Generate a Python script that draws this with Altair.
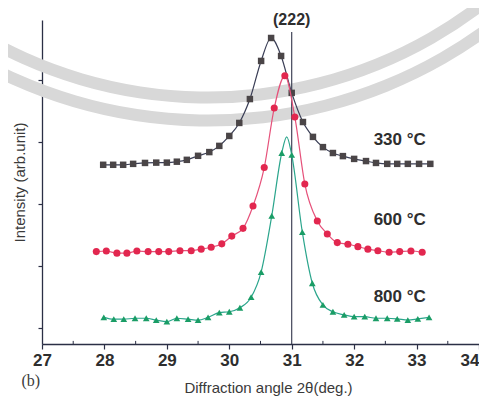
import altair as alt
import pandas as pd

# ---- data ----
# 330 °C (squares)
x330 = [27.98, 28.14, 28.30, 28.46, 28.65, 28.83, 29.00, 29.16, 29.32, 29.50, 29.68, 29.84,
        30.00, 30.16, 30.33, 30.51, 30.67, 30.83, 31.00, 31.18, 31.34, 31.50, 31.66, 31.82,
        32.00, 32.19, 32.35, 32.53, 32.69, 32.86, 33.04, 33.22]
y330 = [5.28, 5.28, 5.28, 5.31, 5.34, 5.35, 5.35, 5.38, 5.44, 5.57, 5.69, 5.89,
        6.21, 6.63, 7.40, 8.63, 9.37, 8.79, 7.60, 6.66, 6.18, 5.85, 5.66, 5.56,
        5.47, 5.40, 5.34, 5.31, 5.31, 5.31, 5.31, 5.31]

# 600 °C (circles)
x600 = [27.87, 28.03, 28.20, 28.36, 28.52, 28.70, 28.87, 29.03, 29.21, 29.39, 29.55, 29.71,
        29.88, 30.04, 30.22, 30.38, 30.56, 30.72, 30.89, 31.05, 31.21, 31.41, 31.57, 31.73,
        31.90, 32.06, 32.22, 32.38, 32.56, 32.73, 32.91, 33.09]
y600 = [2.48, 2.50, 2.43, 2.43, 2.50, 2.48, 2.48, 2.48, 2.51, 2.51, 2.56, 2.62,
        2.73, 2.98, 3.23, 3.95, 5.19, 7.11, 8.15, 6.82, 4.66, 3.47, 3.05, 2.77,
        2.72, 2.64, 2.56, 2.51, 2.46, 2.48, 2.50, 2.46]

# 800 °C (triangles)
x800 = [27.99, 28.15, 28.31, 28.49, 28.67, 28.83, 29.00, 29.16, 29.34, 29.50, 29.66, 29.84,
        30.00, 30.17, 30.35, 30.51, 30.68, 30.84, 31.00, 31.17, 31.33, 31.50, 31.66, 31.84,
        32.00, 32.17, 32.35, 32.53, 32.69, 32.86, 33.02, 33.20]
y800 = [0.36, 0.30, 0.30, 0.33, 0.33, 0.27, 0.22, 0.33, 0.30, 0.27, 0.36, 0.51,
        0.54, 0.67, 1.01, 1.82, 3.63, 5.66, 5.60, 3.11, 1.46, 0.76, 0.54, 0.44,
        0.38, 0.38, 0.33, 0.33, 0.31, 0.27, 0.31, 0.36]
# apex of the fitted 800 °C curve (line only, no marker)
peak800_x = [30.92]
peak800_y = [6.18]

# series labels
label_text = ["330 °C", "600 °C", "800 °C"]
label_x = [32.73, 32.73, 32.73]
label_y = [6.08, 3.50, 1.02]

# reflection marker
peak_label = ["(222)"]
peak_pos = [31.0]
peak_top = [9.56]
peak_label_y = [9.95]

x_ticks = [27, 28, 29, 30, 31, 32, 33, 34]
x_minor = [27.5, 28.5, 29.5, 30.5, 31.5, 32.5, 33.5]
y_ticks = [0, 1, 2, 3, 4, 5, 6, 7, 8, 9]
x_domain = [27, 34]
y_domain = [-0.5, 9.95]

panel_tag = ["(b)"]
panel_tag_x = [26.82]
panel_tag_y = [-1.68]

AXIS_COL = "#2b2f45"
TXT_COL = "#2e2e2e"

X = alt.X("x:Q",
          scale=alt.Scale(domain=x_domain, nice=False, zero=False),
          axis=alt.Axis(values=x_ticks, format="d", grid=False, tickSize=5,
                        tickColor=AXIS_COL, domainColor=AXIS_COL, domainWidth=1.3,
                        tickWidth=1.2, labelFont="Liberation Sans", labelFontWeight="bold",
                        labelFontSize=17, labelColor=TXT_COL, labelPadding=3,
                        labelOverlap=False, labelFlush=False,
                        labelAlign=alt.ExprRef(expr="datum.value == 34 ? 'right' : 'center'"),
                        title="Diffraction angle 2θ(deg.)", titleFont="Liberation Sans",
                        titleFontWeight="normal", titleFontSize=15, titleColor="#3a3a3a",
                        titlePadding=12, titleX=226))
Y = alt.Y("y:Q",
          scale=alt.Scale(domain=y_domain, nice=False, zero=False),
          axis=alt.Axis(values=y_ticks, labels=False, grid=False, tickSize=4,
                        tickColor=AXIS_COL, domainColor=AXIS_COL, domainWidth=1.3,
                        tickWidth=1.2, title="Intensity (arb.unit)",
                        titleFont="Liberation Sans", titleFontWeight="normal",
                        titleFontSize=15, titleColor="#3a3a3a", titlePadding=10))

layers = []

# faint watermark rings of the scanned page (decoration)
for r_out, r_in in [(455.5, 443.5), (478.5, 466.5)]:
    layers.append(
        alt.Chart(pd.DataFrame({"k": [0]})).mark_arc(
            radius=r_out, radius2=r_in, theta=1.95, theta2=4.1, color="#d8d8d8"
        ).encode(x=alt.value(166), y=alt.value(-372))
    )


def series(xs, ys, shape, mcol, lcol, size, lx=None, ly=None):
    df = pd.DataFrame({"x": xs, "y": ys})
    ldf = df
    if lx is not None:
        ldf = pd.concat([df, pd.DataFrame({"x": lx, "y": ly})]).sort_values("x")
    line = alt.Chart(ldf).mark_line(color=lcol, strokeWidth=1.2,
                                    interpolate="monotone").encode(x=X, y=Y)
    pts = alt.Chart(df).mark_point(shape=shape, filled=True, size=size, color=mcol,
                                   opacity=1).encode(x=X, y=Y)
    return [line, pts]


# vertical (222) reference line
rule_df = pd.DataFrame({"x": peak_pos, "y0": [y_domain[0]], "y1": peak_top})
layers.append(alt.Chart(rule_df).mark_rule(color="#30344a", strokeWidth=1.1).encode(
    x=X, y=alt.Y("y0:Q", scale=alt.Scale(domain=y_domain, nice=False, zero=False)),
    y2="y1:Q"))

layers += series(x330, y330, "square", "#4a4547", "#3a3e56", 42)
layers += series(x600, y600, "circle", "#e2274f", "#e6517a", 50)
layers += series(x800, y800, "triangle-up", "#1a9d66", "#2aa58c", 45, peak800_x, peak800_y)

# minor x ticks (inward)
minor_df = pd.DataFrame({"x": x_minor, "y0": [y_domain[0]] * len(x_minor),
                         "y1": [y_domain[0] + 0.1] * len(x_minor)})
layers.append(alt.Chart(minor_df).mark_rule(color=AXIS_COL, strokeWidth=1).encode(
    x=X, y="y0:Q", y2="y1:Q"))

lab_df = pd.DataFrame({"x": label_x, "y": label_y, "t": label_text})
layers.append(alt.Chart(lab_df).mark_text(font="Liberation Sans", fontWeight="bold",
                                          fontSize=17, color=TXT_COL).encode(
    x=X, y=Y, text="t:N"))

pk_df = pd.DataFrame({"x": peak_pos, "y": peak_label_y, "t": peak_label})
layers.append(alt.Chart(pk_df).mark_text(font="Liberation Sans", fontWeight="bold",
                                         fontSize=16, color=TXT_COL,
                                         baseline="middle").encode(
    x=X, y=Y, text="t:N"))

tag_df = pd.DataFrame({"x": panel_tag_x, "y": panel_tag_y, "t": panel_tag})
layers.append(alt.Chart(tag_df).mark_text(font="Liberation Serif", fontSize=16,
                                          color="#3a3a3a", clip=False).encode(
    x=X, y=Y, text="t:N"))

chart = alt.layer(*layers).properties(
    width=437, height=324,
    autosize=alt.AutoSizeParams(type="none"),
    padding={"left": 34, "top": 12, "right": 0, "bottom": 52},
    background="white",
).configure_view(stroke=None)

chart.save("out.html", embed_options={"renderer": "svg", "actions": False})
